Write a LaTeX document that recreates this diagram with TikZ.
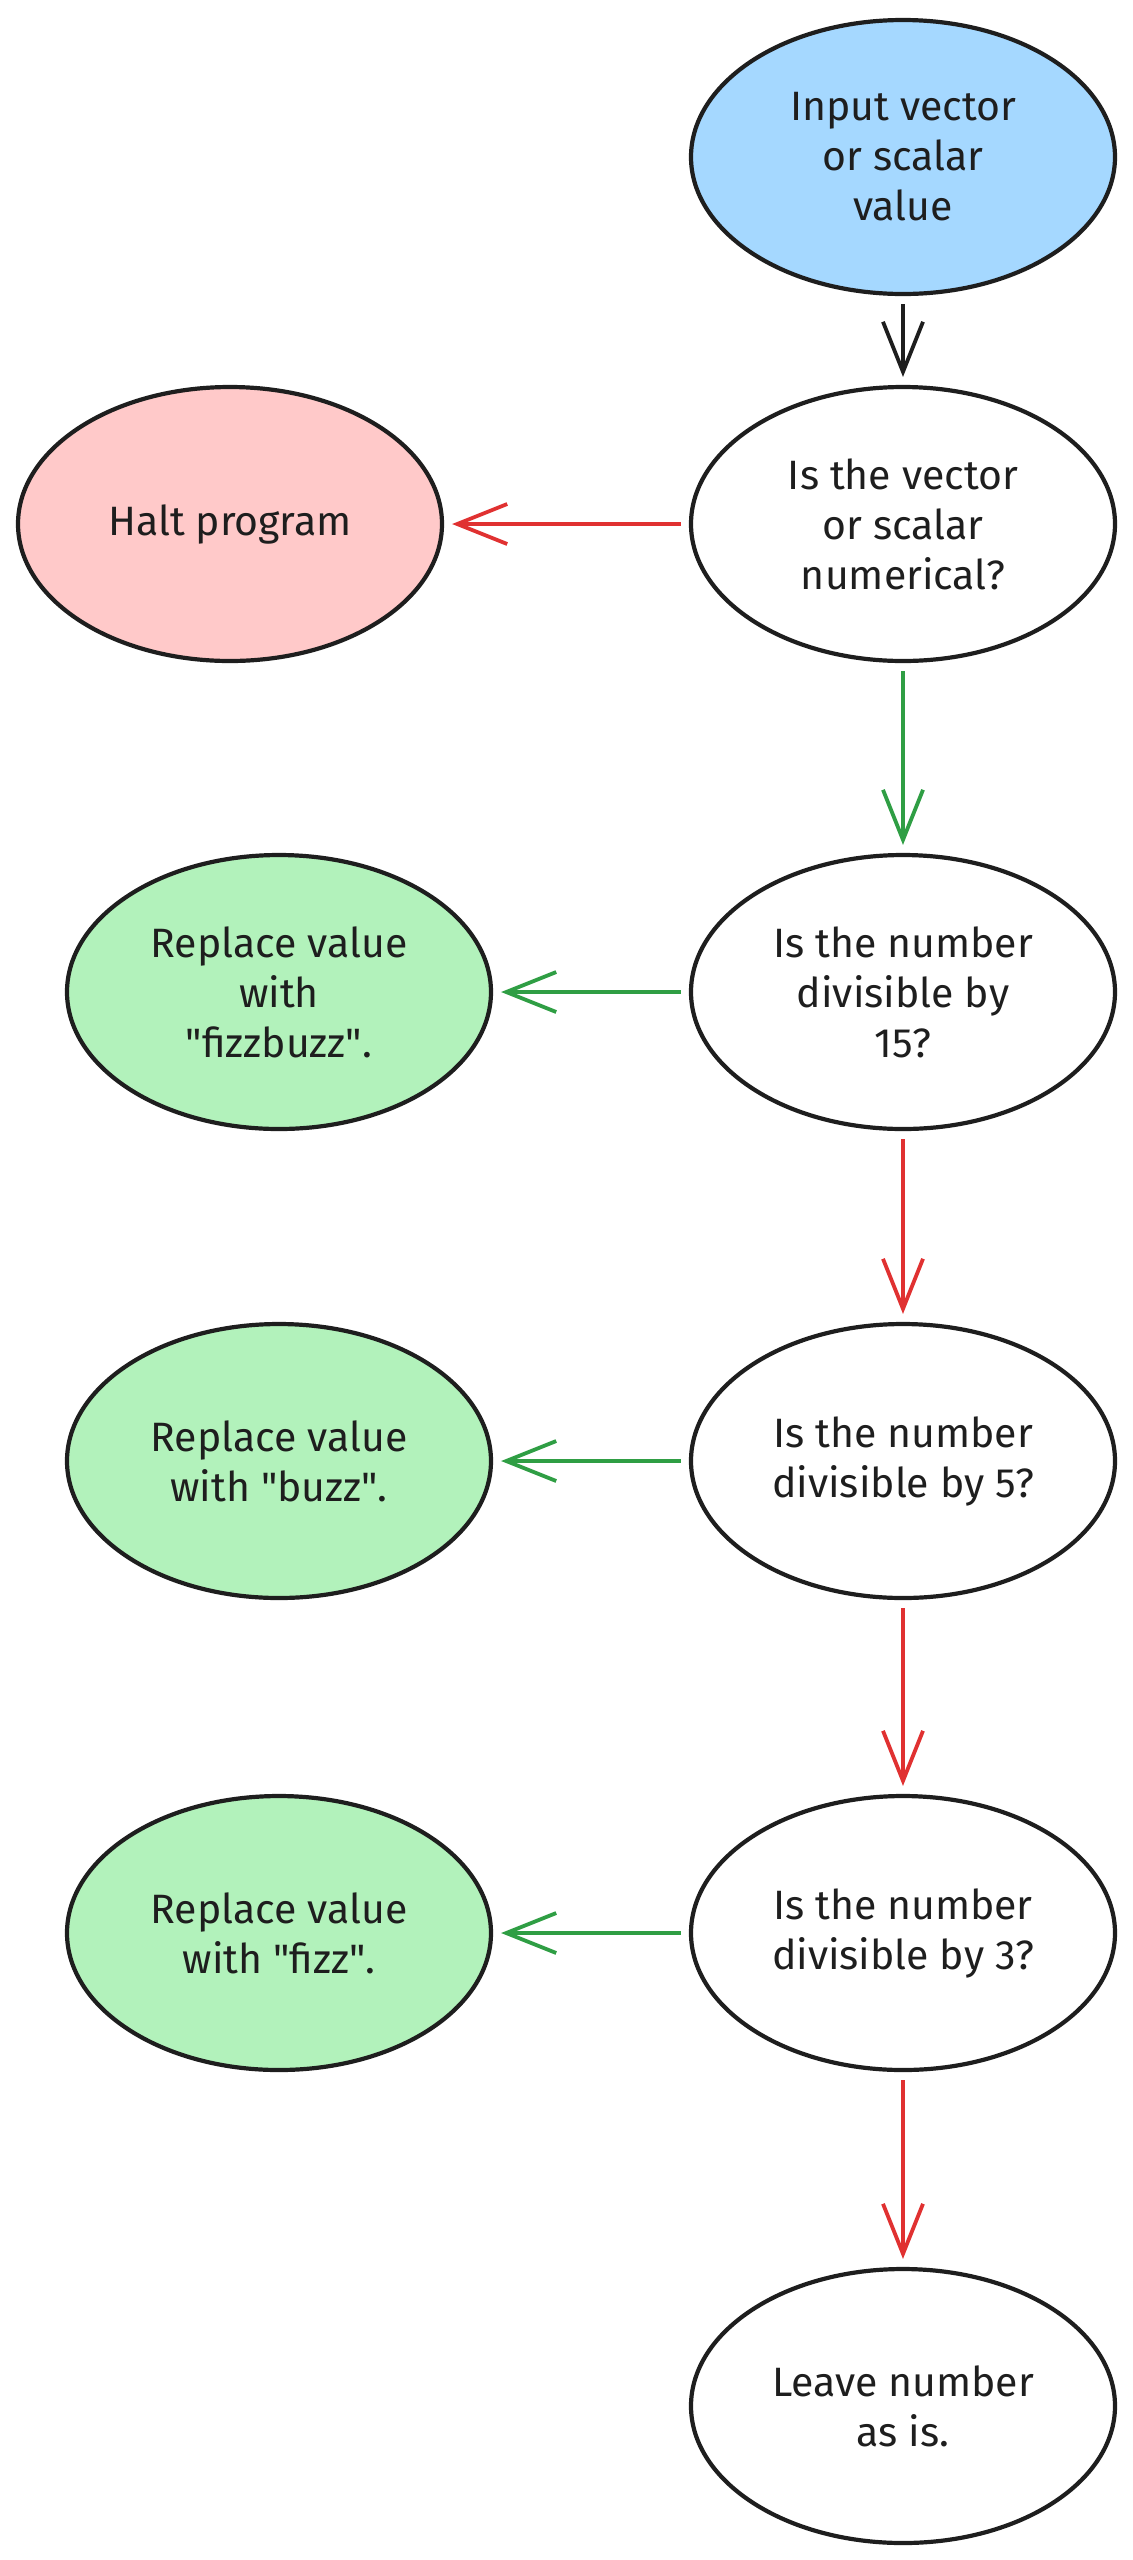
\documentclass[tikz,border=0pt]{standalone}
\usepackage{fontspec}
\setmainfont{Fira Sans}
\usetikzlibrary{shapes.geometric,arrows.meta}
\definecolor{ink}{HTML}{1E1E1E}
\definecolor{fillblue}{HTML}{A5D8FF}
\definecolor{fillred}{HTML}{FFC9C9}
\definecolor{fillgreen}{HTML}{B2F2BB}
\definecolor{arrred}{HTML}{E03131}
\definecolor{arrgreen}{HTML}{2F9E44}
\newcommand{\qq}{\textquotedbl}
\begin{document}
\begin{tikzpicture}[x=0.5pt,y=-0.5pt,
  box/.style={ellipse,draw=ink,line width=2.1pt,minimum width=212pt,minimum height=137pt,
    inner sep=0pt,align=center,font=\fontsize{20.5}{25}\selectfont,text=ink},
  arr/.style={line width=1.9pt,-{Straight Barb[length=25pt,width=20pt,line width=1.9pt]},
    shorten <=4pt,shorten >=4pt},
  redarr/.style={arr,draw=arrred},
  greenarr/.style={arr,draw=arrgreen},
  blackarr/.style={arr,draw=ink}]
\useasboundingbox (0,0) rectangle (1133,2560);

\node[box,fill=fillblue] (in) at (903,157) {Input vector\\or scalar\\value};
\node[box] (q1) at (903,524) {Is the vector\\or scalar\\numerical?};
\node[box,fill=fillred] (halt) at (230,524) {Halt program};
\node[box] (q15) at (903,992) {Is the number\\divisible by\\15?};
\node[box,fill=fillgreen] (fb) at (279,992) {Replace value\\with\\\qq fizzbuzz\qq.};
\node[box] (q5) at (903,1461) {Is the number\\divisible by 5?};
\node[box,fill=fillgreen] (bz) at (279,1461) {Replace value\\with \qq buzz\qq.};
\node[box] (q3) at (903,1933) {Is the number\\divisible by 3?};
\node[box,fill=fillgreen] (fz) at (279,1933) {Replace value\\with \qq fizz\qq.};
\node[box] (lv) at (903,2406) {Leave number\\as is.};

\draw[blackarr] (in) -- (q1);
\draw[redarr] (q1) -- (halt);
\draw[greenarr] (q1) -- (q15);
\draw[greenarr] (q15) -- (fb);
\draw[redarr] (q15) -- (q5);
\draw[greenarr] (q5) -- (bz);
\draw[redarr] (q5) -- (q3);
\draw[greenarr] (q3) -- (fz);
\draw[redarr] (q3) -- (lv);
\end{tikzpicture}
\end{document}
